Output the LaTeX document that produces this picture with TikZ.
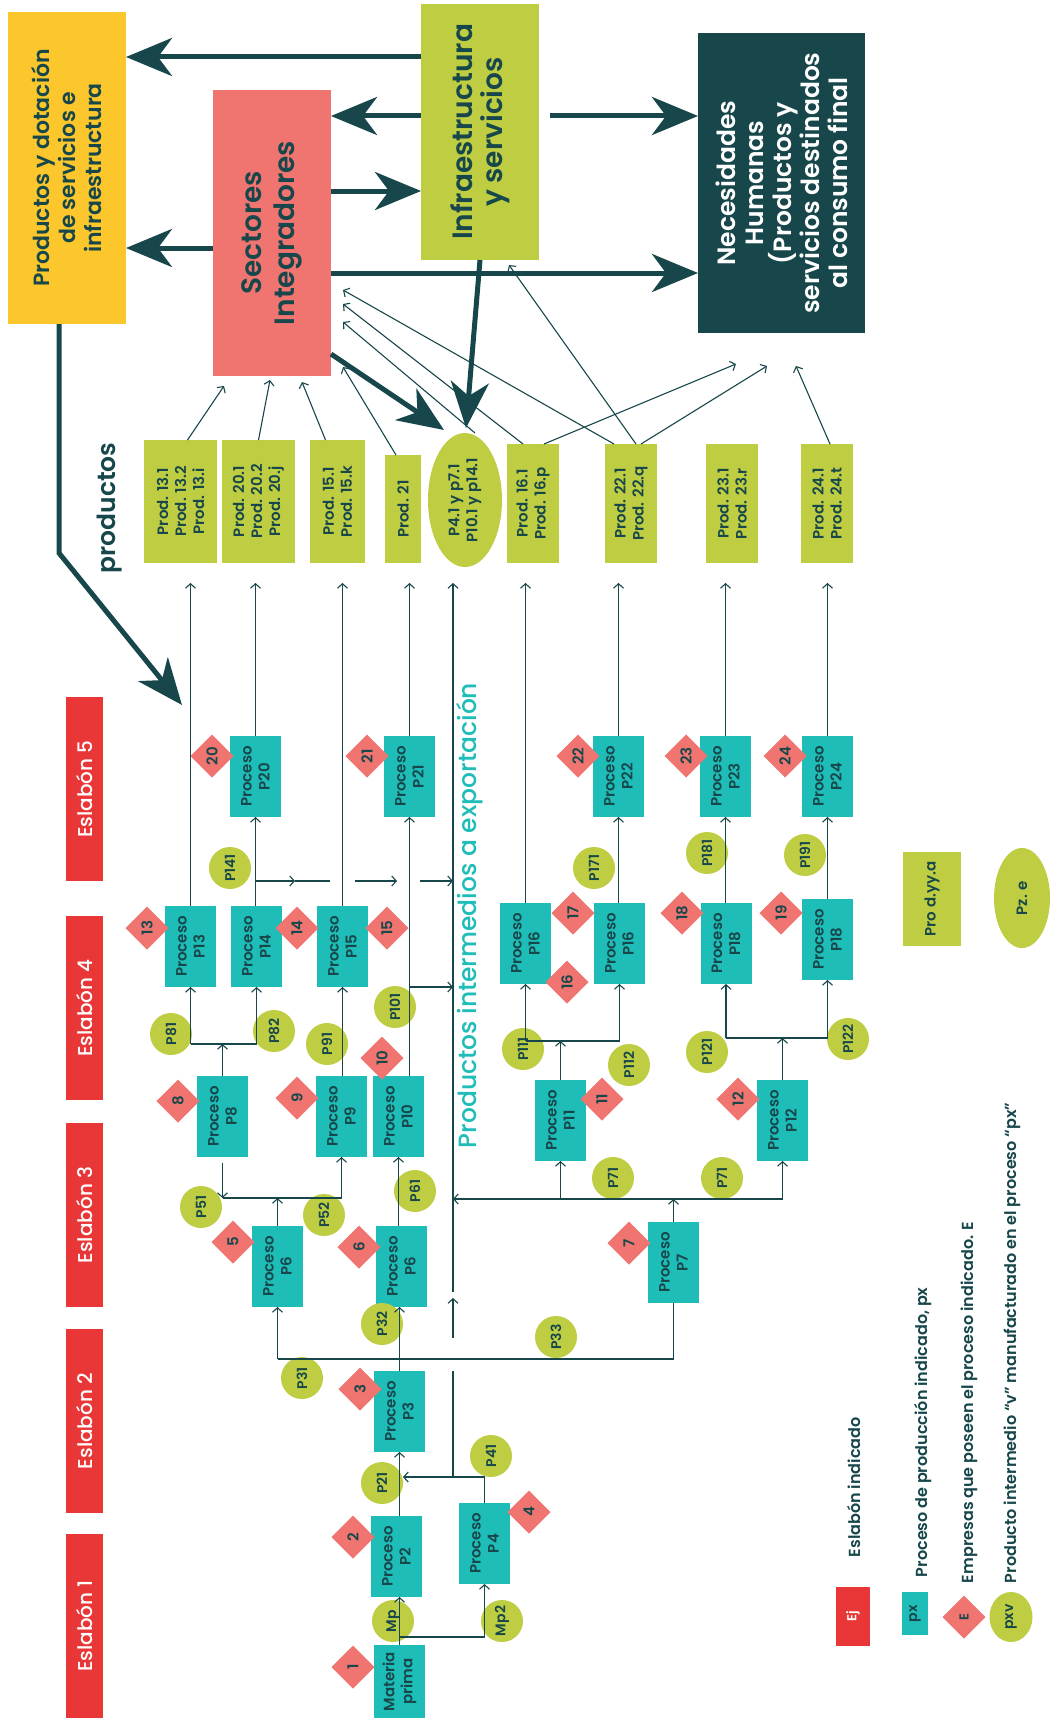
\documentclass[tikz,border=0pt]{standalone}
\usepackage{fontspec}
\setmainfont{Poppins}
\newfontfamily\pmed{Poppins Medium}
\newfontfamily\psemi{Poppins SemiBold}
\usetikzlibrary{arrows.meta,shapes.geometric}
\definecolor{dk}{HTML}{17474A}
\definecolor{yl}{HTML}{FCC72C}
\definecolor{sal}{HTML}{F07571}
\definecolor{lime}{HTML}{BECD41}
\definecolor{tl}{HTML}{1EBDB8}
\definecolor{rd}{HTML}{E93636}
\newcommand\mkproc[4]{\node[procbox] (#1) at (#2,#3) {};\node[ptxt] at (#1) {Proceso\\#4};}
\begin{document}
\begin{tikzpicture}[x=1pt,y=-1pt,
  every node/.style={inner sep=0pt,outer sep=0pt},
  box/.style={rectangle,draw=none},
  procbox/.style={box,fill=tl,minimum width=51pt,minimum height=81pt},
  prodbox/.style={box,fill=lime,minimum width=52pt,minimum height=119pt},
  esl/.style={box,fill=rd,minimum width=37pt,minimum height=184pt},
  dia/.style={diamond,aspect=1,fill=sal,minimum width=43pt,minimum height=43pt,rotate=90,text=dk,font=\psemi\fontsize{15}{15}\selectfont},
  circ/.style={circle,fill=lime,minimum size=42pt,rotate=90,text=dk,font=\psemi\fontsize{14}{14}\selectfont},
  rt/.style={rotate=90,align=center,text=dk},
  ptxt/.style={rt,font=\psemi\fontsize{15}{18}\selectfont},
  etxt/.style={rotate=90,text=white,font=\pmed\fontsize{20}{20}\selectfont},
  arr/.style={draw=dk,line width=1.1pt,-{Straight Barb[length=4.5pt,width=10pt]}},
  ln/.style={draw=dk,line width=1.1pt},
  thk/.style={draw=dk,line width=5pt,-{Stealth[length=46pt,width=38pt,inset=14pt]}},
  lg/.style={rt,anchor=west,font=\psemi\fontsize{16}{19}\selectfont}
]
\useasboundingbox (0,0) rectangle (1053,1718);
\fill[white] (0,0) rectangle (1053,1718);

% ---------- big boxes ----------
\node[box,fill=yl,minimum width=118pt,minimum height=312pt] (ybox) at (67,168) {};
\node[rt,font=\psemi\fontsize{22}{26}\selectfont] at (ybox) {Productos y dotación\\de servicios e\\infraestructura};
\node[box,fill=sal,minimum width=118pt,minimum height=286pt] (sect) at (272,233) {};
\node[rt,font=\psemi\fontsize{28}{33}\selectfont] at (sect) {Sectores\\Integradores};
\node[box,fill=lime,minimum width=118pt,minimum height=256pt] (infra) at (480,132) {};
\node[rt,font=\psemi\fontsize{28}{30}\selectfont] at (infra) {Infraestructura\\y servicios};
\node[box,fill=dk,minimum width=167pt,minimum height=300pt] (necs) at (781.5,183) {};
\node[rt,text=white,font=\psemi\fontsize{25}{28}\selectfont] at (necs) {Necesidades\\Humanas\\(Productos y\\servicios destinados\\al consumo final};

% ---------- products ----------
\node[rt,font=\psemi\fontsize{25}{25}\selectfont] (lblprod) at (110,508) {productos};
\node[prodbox,minimum width=73pt,minimum height=123pt] (prod13) at (180.5,501.5) {};
\node[ptxt] at (prod13) {Prod. 13.1\\Prod. 13.2\\Prod. 13.i};
\node[prodbox,minimum width=73pt,minimum height=123pt] (prod20) at (258.5,501.5) {};
\node[ptxt] at (prod20) {Prod. 20.1\\Prod. 20.2\\Prod. 20.j};
\node[prodbox,minimum width=55pt,minimum height=123pt] (prod15) at (337.5,501.5) {};
\node[ptxt] at (prod15) {Prod. 15.1\\Prod. 15.k};
\node[prodbox,minimum width=36pt,minimum height=108pt] (prod21) at (403,509) {};
\node[ptxt] at (prod21) {Prod. 21};
\node[ellipse,fill=lime,minimum width=74pt,minimum height=134pt] (ellexp) at (465,500) {};
\node[ptxt] at (ellexp) {P4.1 y p7.1\\P10.1 y p14.1};
\node[prodbox] (prod16) at (533,503.5) {};
\node[ptxt] at (prod16) {Prod. 16.1\\Prod. 16.p};
\node[prodbox] (prod22) at (631,503.5) {};
\node[ptxt] at (prod22) {Prod. 22.1\\Prod. 22.q};
\node[prodbox] (prod23) at (732,503.5) {};
\node[ptxt] at (prod23) {Prod. 23.1\\Prod. 23.r};
\node[prodbox] (prod24) at (827,503.5) {};
\node[ptxt] at (prod24) {Prod. 24.1\\Prod. 24.t};

% ---------- eslabones ----------
\node[esl] (es5) at (84.5,789) {};  \node[etxt] at (es5) {Eslabón 5};
\node[esl] (es4) at (84.5,1008) {}; \node[etxt] at (es4) {Eslabón 4};
\node[esl] (es3) at (84.5,1215) {}; \node[etxt] at (es3) {Eslabón 3};
\node[esl] (es2) at (84.5,1421) {}; \node[etxt] at (es2) {Eslabón 2};
\node[esl] (es1) at (84.5,1626) {}; \node[etxt] at (es1) {Eslabón 1};

\node[rt,text=tl,font=\pmed\fontsize{25}{25}\selectfont] (lblexp) at (470,915.5) {Productos intermedios a exportación};

% ---------- processes ----------
\mkproc{p20}{255.5}{776.5}{P20}
\mkproc{p21}{409.5}{776.5}{P21}
\mkproc{p22}{618.5}{776.5}{P22}
\mkproc{p23}{725.5}{776.5}{P23}
\mkproc{p24}{827.5}{776.5}{P24}
\mkproc{p13}{190.5}{946.5}{P13}
\mkproc{p14}{256.5}{946.5}{P14}
\mkproc{p15}{342.5}{946.5}{P15}
\mkproc{p16a}{525.5}{943.5}{P16}
\mkproc{p16b}{619.5}{943.5}{P16}
\mkproc{p18a}{726}{943.5}{P18}
\mkproc{p18b}{827.5}{939.5}{P18}
\mkproc{p8}{222.5}{1116.5}{P8}
\mkproc{p9}{341.5}{1116.5}{P9}
\mkproc{p10}{398.5}{1116.5}{P10}
\mkproc{p11}{560.5}{1120.5}{P11}
\mkproc{p12}{782.5}{1120.5}{P12}
\mkproc{p6l}{277.5}{1266.5}{P6}
\mkproc{p6r}{401.5}{1266.5}{P6}
\mkproc{p7}{673.5}{1262.5}{P7}
\mkproc{p3}{399.5}{1411.5}{P3}
\mkproc{p2}{396.5}{1556.5}{P2}
\mkproc{p4}{484.5}{1543.5}{P4}
\node[procbox,minimum height=73pt] (mat) at (399.5,1681.5) {};
\node[ptxt] at (mat) {Materia\\prima};

% ---------- circles ----------
\node[circ] (c141) at (230,868) {P141};
\node[circ] (c81) at (171,1034) {P81};
\node[circ] (c82) at (274,1031) {P82};
\node[circ] (c91) at (327,1044) {P91};
\node[circ] (c101) at (395,1007) {P101};
\node[circ] (c51) at (201,1207) {P51};
\node[circ] (c52) at (324,1215) {P52};
\node[circ] (c61) at (415,1191) {P61};
\node[circ] (c71a) at (613,1178) {P71};
\node[circ] (c71b) at (722,1178) {P71};
\node[circ] (c111) at (523,1049) {P111};
\node[circ] (c112) at (629,1065) {P112};
\node[circ] (c121) at (707,1052) {P121};
\node[circ] (c122) at (848,1039) {P122};
\node[circ] (c171) at (594,868) {P171};
\node[circ] (c181) at (707,853) {P181};
\node[circ] (c191) at (805,855) {P191};
\node[circ] (c31) at (302,1378) {P31};
\node[circ] (c32) at (382,1324) {P32};
\node[circ] (c33) at (556,1337) {P33};
\node[circ] (c41) at (491,1456) {P41};
\node[circ] (c21) at (382,1483) {P21};
\node[circ] (cmp) at (393,1621) {Mp};
\node[circ] (cmp2) at (502,1621) {Mp2};

% ---------- diamonds ----------
\node[dia] (d1) at (353,1667) {1};
\node[dia] (d2) at (353,1537) {2};
\node[dia] (d3) at (360,1389) {3};
\node[dia] (d4) at (529,1512) {4};
\node[dia] (d5) at (233,1242) {5};
\node[dia] (d6) at (359,1247) {6};
\node[dia] (d7) at (629,1243) {7};
\node[dia] (d8) at (178,1101) {8};
\node[dia] (d9) at (297,1098) {9};
\node[dia] (d10) at (382,1058) {10};
\node[dia] (d11) at (602,1099) {11};
\node[dia] (d12) at (738,1099) {12};
\node[dia] (d13) at (147,928) {13};
\node[dia] (d14) at (297,928) {14};
\node[dia] (d15) at (387,928) {15};
\node[dia] (d16) at (567,982) {16};
\node[dia] (d17) at (573,913) {17};
\node[dia] (d18) at (682,913) {18};
\node[dia] (d19) at (781,913) {19};
\node[dia] (d20) at (212,756) {20};
\node[dia] (d21) at (367,756) {21};
\node[dia] (d22) at (578,756) {22};
\node[dia] (d23) at (686,756) {23};
\node[dia] (d24) at (785,756) {24};

% ---------- legend ----------
\node[box,fill=lime,minimum width=58pt,minimum height=94pt] (lprod) at (932,899) {};
\node[ptxt] at (lprod) {Pro d.yy.a};
\node[ellipse,fill=lime,minimum width=56pt,minimum height=100pt] (lpz) at (1022,898) {};
\node[ptxt] at (lpz) {Pz. e};
\node[box,fill=rd,minimum width=34pt,minimum height=59pt] (lej) at (853,1616.5) {};
\node[rt,text=white,font=\psemi\fontsize{13}{15}\selectfont] at (lej) {Ej};
\node[box,fill=tl,minimum width=26pt,minimum height=43pt] (lpx) at (915,1613.5) {};
\node[rt,font=\psemi\fontsize{14}{15}\selectfont] at (lpx) {px};
\node[dia,font=\psemi\fontsize{13}{13}\selectfont] (lE) at (964,1617) {E};
\node[ellipse,fill=lime,minimum width=43pt,minimum height=50pt] (lpxv) at (1011,1617) {};
\node[rt,font=\psemi\fontsize{14}{15}\selectfont] at (lpxv) {pxv};
\node[lg] at (854,1557) {Eslabón indicado};
\node[lg] at (923,1577) {Proceso de producción indicado, px};
\node[lg] at (969,1583) {Empresas que poseen el proceso indicado. E};
\node[lg] at (1012,1583) {Producto intermedio “v” manufacturado en el proceso “px”};

% ---------- named coordinates ----------
\coordinate (h57) at (0,57);
\coordinate (h116) at (0,116);
\coordinate (h191) at (0,191);
\coordinate (h248) at (0,248);
\coordinate (h273) at (0,273);
\coordinate (i1) at (550,116);
\coordinate (s1) at (0,354);
\coordinate (s2) at (444,430);
\coordinate (i2) at (466,428);
\coordinate (yb1) at (59,553);
\coordinate (yb2) at (182,705);
\coordinate (yA) at (0,583);
\coordinate (m1) at (400,1637);
\coordinate (j1) at (403,1477);
\coordinate (e1) at (453,1477);
\coordinate (e2) at (453,1371);
\coordinate (e3) at (453,1338);
\coordinate (e4) at (453,1298);
\coordinate (e5) at (453,1292);
\coordinate (e6) at (453,583);
\coordinate (k1) at (277.5,1359);
\coordinate (k3) at (0,1198);
\coordinate (k4) at (0,1044);
\coordinate (k5) at (0,881);
\coordinate (k7) at (0,1041);
\coordinate (k8) at (0,1038);
\coordinate (k9) at (0,1163);
\coordinate (q1) at (295,881);
\coordinate (q2) at (330,881);
\coordinate (q3) at (355,881);
\coordinate (q4) at (397,881);
\coordinate (q5) at (420,881);
\coordinate (q6) at (453,881);
\coordinate (q7) at (453,987);
\coordinate (q8) at (453,1199);
\coordinate (t1) at (224,386);
\coordinate (t2) at (270,380);
\coordinate (t3) at (302,382);
\coordinate (t4) at (343,367);
\coordinate (t5) at (343,322);
\coordinate (t6) at (343,304);
\coordinate (t7) at (343,290);
\coordinate (t8) at (509,265);
\coordinate (t9) at (736,364);
\coordinate (t10) at (767,366);
\coordinate (t11) at (796,366);

% ---------- thick connectors ----------
\draw[thk] (infra.west |- h57) -- (ybox.east |- h57);
\draw[thk] (infra.west |- h116) -- (sect.east |- h116);
\draw[thk] (sect.east |- h191) -- (infra.west |- h191);
\draw[thk] (i1) -- (necs.west |- h116);
\draw[thk] (sect.west |- h248) -- (ybox.east |- h248);
\draw[thk] (sect.east |- h273) -- (necs.west |- h273);
\draw[thk] (sect.east |- s1) -- (s2);
\draw[thk] (infra.south) -- (i2);
\draw[thk] (ybox.south -| yb1) -- (yb1) -- (yb2);

% ---------- thin connectors to top ----------
\draw[arr] ([xshift=7pt]prod13.north) -- (t1);
\draw[arr] (prod20.north) -- (t2);
\draw[arr] ([xshift=-12pt]prod15.north) -- (t3);
\draw[arr] ([xshift=-7pt]prod21.north) -- (t4);
\draw[arr] ([xshift=10pt]ellexp.north) -- (t5);
\draw[arr] ([xshift=-10pt]prod16.north) -- (t6);
\draw[arr] ([xshift=-17pt]prod22.north) -- (t7);
\draw[arr] ([xshift=5pt]prod22.north) -- (t8);
\draw[arr] ([xshift=11pt]prod16.north) -- (t9);
\draw[arr] ([xshift=10pt]prod22.north) -- (t10);
\draw[arr] ([xshift=3pt]prod24.north) -- (t11);

% ---------- process connectors ----------
\draw[arr] (mat.north) -- (mat.north |- p2.south);
\draw[arr] (m1) -| (p4.south);
\draw[arr] (p3.south |- p2.north) -- (p3.south);
\draw[arr] (p4.north) |- (j1);
\draw[ln] (e1) -- (e2);
\draw[arr] (e3) -- (e4);
\draw[arr] (e5) -- (e6);
\draw[arr] (p3.north) -- (p3.north |- p6r.south);
\draw[ln] (p7.south) -- (p7.south |- k1) -- (k1);
\draw[arr] (k1) -- (k1 |- p6l.south);
\draw[arr] (p6l.north) -- (p6l.north |- k3);
\draw[ln] (p8.south |- k3) -- (p9.south |- k3);
\draw[arr] (p8.south |- k9) -- (p8.south |- k3);
\draw[arr] (p9.south |- k3) -- (p9.south);
\draw[arr] (p10.south |- p6r.north) -- (p10.south);
\draw[arr] (p8.north) -- (p8.north |- k4);
\draw[ln] (p13.south |- k4) -- (p14.south |- k4);
\draw[arr] (p13.south |- k4) -- (p13.south);
\draw[arr] (p14.south |- k4) -- (p14.south);
\draw[arr] (p15.south |- p9.north) -- (p15.south);
\draw[arr] (p13.north) -- (p13.north |- yA);
\draw[arr] (p20.south |- p14.north) -- (p20.south);
\draw[arr] (p20.south |- k5) -- (q1);
\draw[ln] (q1) -- (q2);
\draw[arr] (q3) -- (q4);
\draw[arr] (q5) -- (q6);
\draw[arr] (p15.north) -- (p15.north |- yA);
\draw[arr] (p21.south |- p10.north) -- (p21.south);
\draw[arr] (p21.south |- q7) -- (q7);
\draw[arr] (p21.north) -- (p21.north |- yA);
\draw[arr] (p20.north) -- (p20.north |- yA);
\draw[arr] (p12.south |- q8) -- (q8);
\draw[arr] (p12.south |- q8) -- (p12.south);
\draw[arr] (p11.south |- q8) -- (p11.south);
\draw[arr] (p7.north) -- (p7.north |- q8);
\draw[arr] (p11.north) -- (p11.north |- k7);
\draw[ln] (p16a.south |- k7) -- (p16b.south |- k7);
\draw[arr] (p16a.south |- k7) -- (p16a.south);
\draw[arr] (p16b.south |- k7) -- (p16b.south);
\draw[arr] (p16a.north) -- (p16a.north |- yA);
\draw[arr] (p22.south |- p16b.north) -- (p22.south);
\draw[arr] (p22.north) -- (p22.north |- yA);
\draw[arr] (p12.north) -- (p12.north |- k8);
\draw[ln] (p18a.south |- k8) -- (p18b.south |- k8);
\draw[arr] (p18a.south |- k8) -- (p18a.south);
\draw[arr] (p18b.south |- k8) -- (p18b.south);
\draw[arr] (p23.south |- p18a.north) -- (p23.south);
\draw[arr] (p24.south |- p18b.north) -- (p24.south);
\draw[arr] (p23.north) -- (p23.north |- yA);
\draw[arr] (p24.north) -- (p24.north |- yA);
\end{tikzpicture}
\end{document}
